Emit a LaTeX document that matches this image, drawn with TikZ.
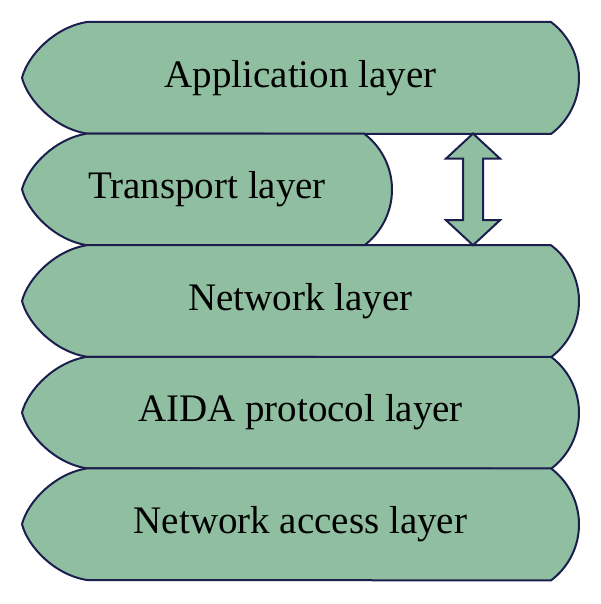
\documentclass[tikz,border=0pt]{standalone}
\usepackage{fontspec}
\setmainfont{Liberation Serif}
\usepackage{xcolor}
\usepackage{tikz}
\usetikzlibrary{positioning, calc}

\definecolor{layergreen}{RGB}{143,191,160}
\definecolor{layeredge}{RGB}{28,30,78}

\begin{document}
\begin{tikzpicture}[x=0.5pt, y=-0.5pt,
                % Define styles
                layer/.style={draw=layeredge, fill=layergreen, line width=1pt, line join=round},
                layertext/.style={font=\fontsize{19.5}{23}\selectfont, inner sep=0pt},
                updown/.style={draw=layeredge, fill=layergreen, line width=1pt, line join=miter}
            ]

            \useasboundingbox (0,0) rectangle (600,604);

            % --- Layers (name / right end / top / text) ---
            \foreach \name/\xr/\top/\txt in {app/551/22/Application layer,
                                             tra/364/133.6/Transport layer,
                                             net/551/245.2/Network layer,
                                             aida/551/356.8/AIDA protocol layer,
                                             acc/551/468.4/Network access layer}{
                \draw [layer] (87,\top) -- (\xr,\top)
                    arc [start angle=-53.13, end angle=53.13, radius=70]
                    -- (87,{\top+111.6})
                    .. controls (55,{\top+106.6}) and (28,{\top+78.8}) .. (22,{\top+55.8})
                    .. controls (28,{\top+32.8}) and (55,{\top+5}) .. cycle;
                \node [layertext] (\name) at ({(\xr+50)/2},{\top+55.8}) {\txt};
            }

            % --- Link between application and network layer ---
            \coordinate (linktop) at (473,133.6);
            \coordinate (linkbot) at (473,245.2);
            \draw [updown] (linktop) -- ++(27,25) -- ++(-17,0) -- ($(linkbot)+(10,-25)$)
                -- ++(17,0) -- (linkbot) -- ++(-27,-25) -- ++(17,0)
                -- ($(linktop)+(-10,25)$) -- ++(-17,0) -- cycle;

        \end{tikzpicture}
\end{document}
